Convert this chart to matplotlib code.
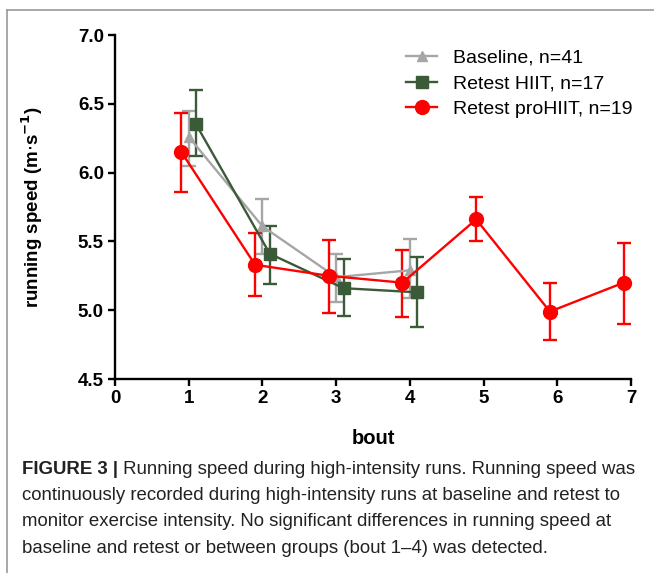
import numpy as np
import matplotlib.pyplot as plt
from matplotlib.lines import Line2D

# bouts and group means / error bars
bout_base = [1, 2, 3, 4]
base_mean = [6.26, 5.61, 5.24, 5.29]
base_err_hi = [6.45, 5.81, 5.41, 5.52]
base_err_lo = [6.05, 5.41, 5.06, 5.09]

bout_hiit = [1, 2, 3, 4]
hiit_mean = [6.35, 5.41, 5.16, 5.13]
hiit_err_hi = [6.60, 5.61, 5.37, 5.39]
hiit_err_lo = [6.12, 5.19, 4.96, 4.88]

bout_pro = [1, 2, 3, 4, 5, 6, 7]
pro_mean = [6.15, 5.33, 5.25, 5.20, 5.66, 4.99, 5.20]
pro_err_hi = [6.43, 5.56, 5.51, 5.44, 5.82, 5.20, 5.49]
pro_err_lo = [5.86, 5.10, 4.98, 4.95, 5.50, 4.78, 4.90]

labels = ["Baseline, n=41", "Retest HIIT, n=17", "Retest proHIIT, n=19"]
caption_bold = "FIGURE 3 |"
caption_lines = [
    " Running speed during high-intensity runs. Running speed was",
    "continuously recorded during high-intensity runs at baseline and retest to",
    "monitor exercise intensity. No significant differences in running speed at",
    "baseline and retest or between groups (bout 1\u20134) was detected.",
]

grey = "#a6a6a6"
green = "#3b5a38"
red = "#ff0000"

plt.rcParams['font.family'] = ['Liberation Sans', 'DejaVu Sans']

fig = plt.figure(figsize=(6.54, 5.73), dpi=100)
ax = fig.add_axes([115 / 654, 1 - 379 / 573, 516 / 654, 344 / 573])


def draw(x, m, hi, lo, off, color, marker, ms, label):
    x = np.array(x) + off
    m = np.array(m)
    yerr = [m - np.array(lo), np.array(hi) - m]
    ax.errorbar(x, m, yerr=yerr, color=color, marker=marker, ms=ms,
                lw=1.7, elinewidth=1.7, capsize=5, capthick=1.7,
                label=label, clip_on=False)


draw(bout_base, base_mean, base_err_hi, base_err_lo, 0.0, grey, "^", 7, labels[0])
draw(bout_hiit, hiit_mean, hiit_err_hi, hiit_err_lo, 0.1, green, "s", 9, labels[1])
draw(bout_pro, pro_mean, pro_err_hi, pro_err_lo, -0.1, red, "o", 10, labels[2])

ax.set_xlim(0, 7)
ax.set_ylim(4.5, 7.0)
ax.set_xticks(range(0, 8))
ax.set_yticks([4.5, 5.0, 5.5, 6.0, 6.5, 7.0])
ax.set_yticklabels(["4.5", "5.0", "5.5", "6.0", "6.5", "7.0"])
for s in ["top", "right"]:
    ax.spines[s].set_visible(False)
for s in ["left", "bottom"]:
    ax.spines[s].set_linewidth(1.7)
ax.tick_params(width=1.7, length=5, labelsize=13.5, pad=3)
for t in ax.get_xticklabels() + ax.get_yticklabels():
    t.set_fontweight("bold")

ax.set_xlabel("bout", fontsize=14.5, fontweight="bold")
ax.xaxis.set_label_coords(0.5, -0.145)
ax.set_ylabel(r"running speed (m$\cdot$s$^{\mathbf{-1}}$)", fontsize=13.5, fontweight="bold")
ax.yaxis.set_label_coords(-0.135, 0.5)

handles = [
    Line2D([], [], color=grey, marker="^", ms=7, lw=1.7),
    Line2D([], [], color=green, marker="s", ms=9, lw=1.7),
    Line2D([], [], color=red, marker="o", ms=10, lw=1.7),
]
ax.legend(handles, labels, loc="upper left", bbox_to_anchor=(0.53, 1.01),
          frameon=False, fontsize=14, handlelength=1.6, handletextpad=0.8,
          labelspacing=0.42)

# page frame lines
fig.add_artist(Line2D([7 / 654, 1], [1 - 10 / 573, 1 - 10 / 573], color="#999999", lw=1.2))
fig.add_artist(Line2D([7 / 654, 7 / 654], [0, 1 - 10 / 573], color="#999999", lw=1.2))

# caption
cap_x = 22 / 654
y0 = 469
fs = 13.4
tb = fig.text(cap_x, 1 - y0 / 573, caption_bold, fontsize=fs, fontweight="bold",
              color="#222222", va="center")
ax.annotate(caption_lines[0], xy=(1, 0.5), xycoords=tb, va="center", ha="left",
            fontsize=fs, color="#222222", annotation_clip=False)
for i, line in enumerate(caption_lines[1:]):
    fig.text(cap_x, 1 - (y0 + 26.5 * (i + 1)) / 573, line, fontsize=fs,
             color="#222222", va="center")

fig.savefig("out.png", dpi=100)
